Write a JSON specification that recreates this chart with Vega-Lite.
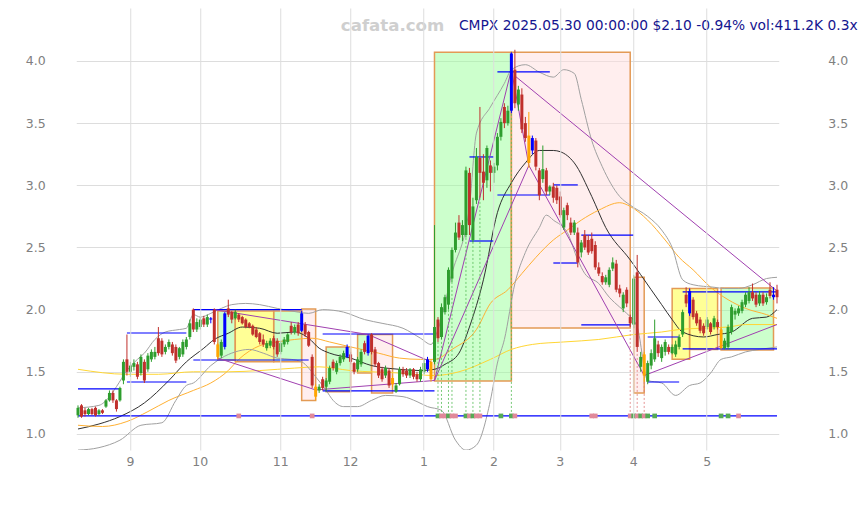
{
"$schema": "https://vega.github.io/schema/vega-lite/v6.json",
"width": 702.5, "height": 442,
"autosize": {"type": "none"},
"padding": {"left": 76.25, "top": 8, "right": 88.25, "bottom": 55},
"background": "white",
"config": {"view": {"stroke": null}, "font": "DejaVu Sans",
  "axis": {"domain": false, "ticks": false, "labelColor": "#808080", "labelFont": "DejaVu Sans", "labelFontSize": 12.5, "gridColor": "#dddddd", "gridWidth": 1}},
"datasets": {
"c": [
{"d":"2024-08-12","o":1.15,"h":1.23,"l":1.13,"c":1.21,"t":"up"},
{"d":"2024-08-13","o":1.23,"h":1.24,"l":1.13,"c":1.14,"t":"down"},
{"d":"2024-08-14","o":1.19,"h":1.21,"l":1.14,"c":1.16,"t":"down"},
{"d":"2024-08-15","o":1.16,"h":1.21,"l":1.15,"c":1.20,"t":"up"},
{"d":"2024-08-16","o":1.20,"h":1.21,"l":1.15,"c":1.16,"t":"down"},
{"d":"2024-08-19","o":1.21,"h":1.22,"l":1.14,"c":1.15,"t":"down"},
{"d":"2024-08-20","o":1.16,"h":1.20,"l":1.15,"c":1.19,"t":"up"},
{"d":"2024-08-21","o":1.19,"h":1.20,"l":1.16,"c":1.17,"t":"down"},
{"d":"2024-08-22","o":1.22,"h":1.28,"l":1.21,"c":1.27,"t":"up"},
{"d":"2024-08-23","o":1.27,"h":1.35,"l":1.26,"c":1.33,"t":"up"},
{"d":"2024-08-26","o":1.33,"h":1.35,"l":1.25,"c":1.27,"t":"down"},
{"d":"2024-08-27","o":1.27,"h":1.28,"l":1.18,"c":1.20,"t":"down"},
{"d":"2024-08-28","o":1.27,"h":1.38,"l":1.26,"c":1.37,"t":"up"},
{"d":"2024-08-29","o":1.43,"h":1.60,"l":1.40,"c":1.58,"t":"up"},
{"d":"2024-08-30","o":1.60,"h":1.80,"l":1.47,"c":1.50,"t":"down"},
{"d":"2024-09-03","o":1.50,"h":1.58,"l":1.46,"c":1.55,"t":"up"},
{"d":"2024-09-04","o":1.54,"h":1.60,"l":1.51,"c":1.57,"t":"up"},
{"d":"2024-09-05","o":1.56,"h":1.58,"l":1.44,"c":1.46,"t":"down"},
{"d":"2024-09-06","o":1.49,"h":1.64,"l":1.47,"c":1.62,"t":"up"},
{"d":"2024-09-09","o":1.58,"h":1.60,"l":1.41,"c":1.43,"t":"down"},
{"d":"2024-09-10","o":1.52,"h":1.65,"l":1.50,"c":1.63,"t":"up"},
{"d":"2024-09-11","o":1.60,"h":1.68,"l":1.58,"c":1.66,"t":"up"},
{"d":"2024-09-12","o":1.62,"h":1.70,"l":1.60,"c":1.66,"t":"up"},
{"d":"2024-09-13","o":1.77,"h":1.86,"l":1.63,"c":1.65,"t":"down"},
{"d":"2024-09-16","o":1.75,"h":1.77,"l":1.62,"c":1.64,"t":"down"},
{"d":"2024-09-17","o":1.66,"h":1.72,"l":1.64,"c":1.70,"t":"up"},
{"d":"2024-09-18","o":1.70,"h":1.76,"l":1.68,"c":1.74,"t":"up"},
{"d":"2024-09-19","o":1.72,"h":1.74,"l":1.63,"c":1.65,"t":"down"},
{"d":"2024-09-20","o":1.70,"h":1.72,"l":1.57,"c":1.59,"t":"down"},
{"d":"2024-09-23","o":1.62,"h":1.70,"l":1.60,"c":1.69,"t":"up"},
{"d":"2024-09-24","o":1.64,"h":1.76,"l":1.62,"c":1.74,"t":"up"},
{"d":"2024-09-25","o":1.70,"h":1.78,"l":1.68,"c":1.76,"t":"up"},
{"d":"2024-09-26","o":1.78,"h":1.92,"l":1.76,"c":1.89,"t":"up"},
{"d":"2024-09-27","o":2.00,"h":2.01,"l":1.82,"c":1.84,"t":"down"},
{"d":"2024-09-30","o":1.84,"h":1.93,"l":1.82,"c":1.90,"t":"up"},
{"d":"2024-10-01","o":1.86,"h":1.94,"l":1.84,"c":1.92,"t":"up"},
{"d":"2024-10-02","o":1.93,"h":1.95,"l":1.86,"c":1.88,"t":"down"},
{"d":"2024-10-03","o":1.88,"h":1.96,"l":1.86,"c":1.94,"t":"up"},
{"d":"2024-10-04","o":1.92,"h":1.94,"l":1.89,"c":1.93,"t":"blue"},
{"d":"2024-10-07","o":2.00,"h":2.01,"l":1.72,"c":1.74,"t":"down"},
{"d":"2024-10-08","o":1.72,"h":1.73,"l":1.60,"c":1.62,"t":"orange"},
{"d":"2024-10-09","o":1.63,"h":1.76,"l":1.61,"c":1.74,"t":"up"},
{"d":"2024-10-10","o":1.70,"h":1.98,"l":1.68,"c":1.97,"t":"blue"},
{"d":"2024-10-11","o":2.01,"h":2.08,"l":1.94,"c":1.96,"t":"down"},
{"d":"2024-10-14","o":1.98,"h":1.99,"l":1.89,"c":1.92,"t":"down"},
{"d":"2024-10-15","o":1.93,"h":2.00,"l":1.92,"c":1.98,"t":"up"},
{"d":"2024-10-16","o":1.96,"h":1.97,"l":1.90,"c":1.92,"t":"down"},
{"d":"2024-10-17","o":1.94,"h":1.95,"l":1.88,"c":1.89,"t":"down"},
{"d":"2024-10-18","o":1.92,"h":1.93,"l":1.85,"c":1.86,"t":"down"},
{"d":"2024-10-21","o":1.89,"h":1.90,"l":1.85,"c":1.86,"t":"down"},
{"d":"2024-10-22","o":1.87,"h":1.88,"l":1.79,"c":1.80,"t":"down"},
{"d":"2024-10-23","o":1.84,"h":1.86,"l":1.77,"c":1.78,"t":"down"},
{"d":"2024-10-24","o":1.81,"h":1.82,"l":1.72,"c":1.74,"t":"down"},
{"d":"2024-10-25","o":1.76,"h":1.80,"l":1.70,"c":1.72,"t":"down"},
{"d":"2024-10-28","o":1.69,"h":1.75,"l":1.67,"c":1.73,"t":"up"},
{"d":"2024-10-29","o":1.71,"h":1.77,"l":1.69,"c":1.75,"t":"up"},
{"d":"2024-10-30","o":1.77,"h":1.79,"l":1.68,"c":1.70,"t":"down"},
{"d":"2024-10-31","o":1.75,"h":1.77,"l":1.62,"c":1.64,"t":"down"},
{"d":"2024-11-01","o":1.66,"h":1.75,"l":1.64,"c":1.73,"t":"up"},
{"d":"2024-11-04","o":1.72,"h":1.78,"l":1.70,"c":1.76,"t":"up"},
{"d":"2024-11-05","o":1.74,"h":1.81,"l":1.72,"c":1.80,"t":"up"},
{"d":"2024-11-06","o":1.87,"h":1.90,"l":1.80,"c":1.82,"t":"down"},
{"d":"2024-11-07","o":1.82,"h":1.88,"l":1.80,"c":1.86,"t":"up"},
{"d":"2024-11-08","o":1.88,"h":1.90,"l":1.79,"c":1.81,"t":"down"},
{"d":"2024-11-11","o":1.83,"h":1.99,"l":1.82,"c":1.97,"t":"blue"},
{"d":"2024-11-12","o":1.88,"h":1.90,"l":1.78,"c":1.80,"t":"down"},
{"d":"2024-11-13","o":1.82,"h":1.83,"l":1.70,"c":1.71,"t":"down"},
{"d":"2024-11-14","o":1.62,"h":1.64,"l":1.37,"c":1.39,"t":"down"},
{"d":"2024-11-15","o":1.38,"h":1.40,"l":1.27,"c":1.30,"t":"orange"},
{"d":"2024-11-18","o":1.35,"h":1.40,"l":1.33,"c":1.38,"t":"up"},
{"d":"2024-11-19","o":1.44,"h":1.46,"l":1.35,"c":1.37,"t":"down"},
{"d":"2024-11-20","o":1.38,"h":1.45,"l":1.34,"c":1.43,"t":"up"},
{"d":"2024-11-21","o":1.42,"h":1.55,"l":1.40,"c":1.53,"t":"up"},
{"d":"2024-11-22","o":1.58,"h":1.60,"l":1.51,"c":1.53,"t":"down"},
{"d":"2024-11-25","o":1.50,"h":1.59,"l":1.48,"c":1.57,"t":"up"},
{"d":"2024-11-26","o":1.57,"h":1.64,"l":1.55,"c":1.62,"t":"up"},
{"d":"2024-11-27","o":1.60,"h":1.67,"l":1.58,"c":1.65,"t":"up"},
{"d":"2024-11-29","o":1.62,"h":1.72,"l":1.61,"c":1.70,"t":"blue"},
{"d":"2024-12-02","o":1.64,"h":1.66,"l":1.56,"c":1.58,"t":"down"},
{"d":"2024-12-03","o":1.57,"h":1.58,"l":1.48,"c":1.50,"t":"down"},
{"d":"2024-12-04","o":1.52,"h":1.62,"l":1.50,"c":1.60,"t":"up"},
{"d":"2024-12-05","o":1.56,"h":1.68,"l":1.54,"c":1.66,"t":"up"},
{"d":"2024-12-06","o":1.73,"h":1.75,"l":1.64,"c":1.66,"t":"down"},
{"d":"2024-12-09","o":1.65,"h":1.80,"l":1.63,"c":1.79,"t":"blue"},
{"d":"2024-12-10","o":1.80,"h":1.81,"l":1.64,"c":1.66,"t":"down"},
{"d":"2024-12-11","o":1.68,"h":1.70,"l":1.54,"c":1.56,"t":"down"},
{"d":"2024-12-12","o":1.57,"h":1.58,"l":1.45,"c":1.47,"t":"down"},
{"d":"2024-12-13","o":1.52,"h":1.54,"l":1.42,"c":1.44,"t":"down"},
{"d":"2024-12-16","o":1.47,"h":1.55,"l":1.45,"c":1.53,"t":"up"},
{"d":"2024-12-17","o":1.51,"h":1.53,"l":1.37,"c":1.39,"t":"down"},
{"d":"2024-12-18","o":1.45,"h":1.47,"l":1.38,"c":1.40,"t":"orange"},
{"d":"2024-12-19","o":1.34,"h":1.41,"l":1.33,"c":1.39,"t":"up"},
{"d":"2024-12-20","o":1.40,"h":1.54,"l":1.39,"c":1.52,"t":"up"},
{"d":"2024-12-23","o":1.52,"h":1.54,"l":1.46,"c":1.48,"t":"down"},
{"d":"2024-12-24","o":1.51,"h":1.53,"l":1.45,"c":1.47,"t":"down"},
{"d":"2024-12-26","o":1.47,"h":1.53,"l":1.45,"c":1.52,"t":"up"},
{"d":"2024-12-27","o":1.52,"h":1.53,"l":1.44,"c":1.46,"t":"down"},
{"d":"2024-12-30","o":1.48,"h":1.50,"l":1.42,"c":1.44,"t":"down"},
{"d":"2024-12-31","o":1.44,"h":1.54,"l":1.42,"c":1.52,"t":"up"},
{"d":"2025-01-02","o":1.50,"h":1.60,"l":1.48,"c":1.57,"t":"up"},
{"d":"2025-01-03","o":1.52,"h":1.62,"l":1.50,"c":1.60,"t":"blue"},
{"d":"2025-01-06","o":1.58,"h":1.60,"l":1.42,"c":1.44,"t":"orange"},
{"d":"2025-01-07","o":1.58,"h":2.68,"l":1.56,"c":1.86,"t":"up"},
{"d":"2025-01-08","o":1.92,"h":1.94,"l":1.74,"c":1.77,"t":"down"},
{"d":"2025-01-10","o":1.78,"h":2.05,"l":1.76,"c":2.02,"t":"up"},
{"d":"2025-01-13","o":1.98,"h":2.12,"l":1.96,"c":2.10,"t":"up"},
{"d":"2025-01-14","o":2.04,"h":2.34,"l":2.00,"c":2.32,"t":"up"},
{"d":"2025-01-15","o":2.25,"h":2.50,"l":2.22,"c":2.48,"t":"up"},
{"d":"2025-01-16","o":2.48,"h":2.70,"l":2.46,"c":2.62,"t":"up"},
{"d":"2025-01-17","o":2.70,"h":2.76,"l":2.56,"c":2.58,"t":"down"},
{"d":"2025-01-21","o":2.60,"h":2.72,"l":2.55,"c":2.68,"t":"up"},
{"d":"2025-01-22","o":2.60,"h":3.15,"l":2.58,"c":3.12,"t":"up"},
{"d":"2025-01-23","o":3.10,"h":3.14,"l":2.60,"c":2.68,"t":"down"},
{"d":"2025-01-24","o":2.56,"h":2.90,"l":2.54,"c":2.83,"t":"up"},
{"d":"2025-01-27","o":2.88,"h":3.30,"l":2.85,"c":3.23,"t":"up"},
{"d":"2025-01-28","o":3.22,"h":3.63,"l":2.90,"c":3.10,"t":"down"},
{"d":"2025-01-29","o":3.11,"h":3.25,"l":2.88,"c":3.02,"t":"down"},
{"d":"2025-01-30","o":3.04,"h":3.32,"l":2.98,"c":3.30,"t":"up"},
{"d":"2025-01-31","o":3.16,"h":3.20,"l":2.95,"c":3.10,"t":"down"},
{"d":"2025-02-03","o":3.10,"h":3.18,"l":3.02,"c":3.15,"t":"up"},
{"d":"2025-02-04","o":3.16,"h":3.42,"l":3.12,"c":3.39,"t":"up"},
{"d":"2025-02-05","o":3.39,"h":3.54,"l":3.36,"c":3.51,"t":"up"},
{"d":"2025-02-06","o":3.63,"h":3.66,"l":3.46,"c":3.50,"t":"down"},
{"d":"2025-02-07","o":3.50,"h":3.64,"l":3.48,"c":3.60,"t":"up"},
{"d":"2025-02-10","o":3.60,"h":4.07,"l":3.58,"c":4.06,"t":"blue"},
{"d":"2025-02-11","o":3.93,"h":4.09,"l":3.62,"c":3.66,"t":"down"},
{"d":"2025-02-12","o":3.65,"h":3.80,"l":3.60,"c":3.77,"t":"up"},
{"d":"2025-02-13","o":3.73,"h":3.78,"l":3.42,"c":3.45,"t":"down"},
{"d":"2025-02-14","o":3.50,"h":3.55,"l":3.35,"c":3.38,"t":"down"},
{"d":"2025-02-18","o":3.40,"h":3.59,"l":3.14,"c":3.18,"t":"orange"},
{"d":"2025-02-19","o":3.28,"h":3.40,"l":3.25,"c":3.38,"t":"blue"},
{"d":"2025-02-20","o":3.36,"h":3.38,"l":3.12,"c":3.15,"t":"down"},
{"d":"2025-02-21","o":3.12,"h":3.14,"l":2.88,"c":2.92,"t":"down"},
{"d":"2025-02-24","o":3.05,"h":3.32,"l":3.02,"c":3.13,"t":"up"},
{"d":"2025-02-25","o":3.12,"h":3.14,"l":2.92,"c":2.95,"t":"down"},
{"d":"2025-02-26","o":2.95,"h":3.00,"l":2.92,"c":2.99,"t":"up"},
{"d":"2025-02-27","o":2.99,"h":3.02,"l":2.86,"c":2.90,"t":"down"},
{"d":"2025-02-28","o":2.98,"h":3.00,"l":2.85,"c":2.88,"t":"down"},
{"d":"2025-03-03","o":2.91,"h":2.95,"l":2.74,"c":2.76,"t":"down"},
{"d":"2025-03-04","o":2.66,"h":2.82,"l":2.64,"c":2.80,"t":"up"},
{"d":"2025-03-05","o":2.84,"h":2.86,"l":2.72,"c":2.76,"t":"down"},
{"d":"2025-03-06","o":2.70,"h":2.74,"l":2.60,"c":2.62,"t":"down"},
{"d":"2025-03-07","o":2.62,"h":2.72,"l":2.60,"c":2.70,"t":"up"},
{"d":"2025-03-10","o":2.62,"h":2.66,"l":2.34,"c":2.38,"t":"down"},
{"d":"2025-03-11","o":2.46,"h":2.56,"l":2.42,"c":2.54,"t":"up"},
{"d":"2025-03-12","o":2.60,"h":2.64,"l":2.48,"c":2.50,"t":"down"},
{"d":"2025-03-13","o":2.56,"h":2.60,"l":2.44,"c":2.46,"t":"down"},
{"d":"2025-03-14","o":2.57,"h":2.62,"l":2.45,"c":2.47,"t":"down"},
{"d":"2025-03-17","o":2.52,"h":2.55,"l":2.32,"c":2.34,"t":"down"},
{"d":"2025-03-18","o":2.34,"h":2.38,"l":2.27,"c":2.29,"t":"down"},
{"d":"2025-03-19","o":2.27,"h":2.30,"l":2.20,"c":2.22,"t":"down"},
{"d":"2025-03-20","o":2.22,"h":2.28,"l":2.20,"c":2.26,"t":"up"},
{"d":"2025-03-21","o":2.20,"h":2.34,"l":2.18,"c":2.32,"t":"up"},
{"d":"2025-03-24","o":2.33,"h":2.42,"l":2.31,"c":2.38,"t":"up"},
{"d":"2025-03-25","o":2.37,"h":2.40,"l":2.14,"c":2.16,"t":"down"},
{"d":"2025-03-26","o":2.17,"h":2.20,"l":2.10,"c":2.13,"t":"down"},
{"d":"2025-03-27","o":2.01,"h":2.14,"l":1.98,"c":2.12,"t":"up"},
{"d":"2025-03-28","o":2.16,"h":2.18,"l":2.02,"c":2.05,"t":"down"},
{"d":"2025-03-31","o":1.94,"h":1.96,"l":1.86,"c":1.89,"t":"down"},
{"d":"2025-04-01","o":1.88,"h":2.28,"l":1.85,"c":2.25,"t":"up"},
{"d":"2025-04-02","o":2.30,"h":2.44,"l":1.66,"c":1.70,"t":"down"},
{"d":"2025-04-03","o":1.54,"h":1.66,"l":1.50,"c":1.62,"t":"up"},
{"d":"2025-04-04","o":1.64,"h":1.66,"l":1.42,"c":1.47,"t":"orange"},
{"d":"2025-04-07","o":1.42,"h":1.59,"l":1.40,"c":1.57,"t":"up"},
{"d":"2025-04-08","o":1.55,"h":1.68,"l":1.52,"c":1.65,"t":"up"},
{"d":"2025-04-09","o":1.60,"h":1.92,"l":1.58,"c":1.77,"t":"up"},
{"d":"2025-04-10","o":1.72,"h":1.75,"l":1.62,"c":1.65,"t":"down"},
{"d":"2025-04-11","o":1.61,"h":1.72,"l":1.58,"c":1.70,"t":"up"},
{"d":"2025-04-14","o":1.66,"h":1.76,"l":1.63,"c":1.74,"t":"up"},
{"d":"2025-04-15","o":1.70,"h":1.72,"l":1.64,"c":1.66,"t":"down"},
{"d":"2025-04-16","o":1.65,"h":1.72,"l":1.64,"c":1.70,"t":"up"},
{"d":"2025-04-17","o":1.64,"h":1.75,"l":1.62,"c":1.72,"t":"up"},
{"d":"2025-04-21","o":1.70,"h":1.80,"l":1.68,"c":1.78,"t":"up"},
{"d":"2025-04-22","o":1.80,"h":2.00,"l":1.78,"c":1.98,"t":"up"},
{"d":"2025-04-23","o":2.12,"h":2.18,"l":2.02,"c":2.05,"t":"down"},
{"d":"2025-04-24","o":2.15,"h":2.17,"l":1.95,"c":1.97,"t":"blue"},
{"d":"2025-04-25","o":2.08,"h":2.10,"l":1.92,"c":1.94,"t":"down"},
{"d":"2025-04-28","o":1.97,"h":1.99,"l":1.87,"c":1.89,"t":"down"},
{"d":"2025-04-29","o":1.92,"h":1.94,"l":1.81,"c":1.83,"t":"down"},
{"d":"2025-04-30","o":1.87,"h":1.89,"l":1.79,"c":1.81,"t":"down"},
{"d":"2025-05-01","o":1.86,"h":1.94,"l":1.84,"c":1.92,"t":"up"},
{"d":"2025-05-02","o":1.89,"h":1.90,"l":1.80,"c":1.82,"t":"down"},
{"d":"2025-05-05","o":1.86,"h":1.95,"l":1.84,"c":1.93,"t":"up"},
{"d":"2025-05-06","o":1.90,"h":1.92,"l":1.84,"c":1.86,"t":"down"},
{"d":"2025-05-07","o":1.84,"h":1.86,"l":1.68,"c":1.69,"t":"orange"},
{"d":"2025-05-08","o":1.69,"h":1.77,"l":1.68,"c":1.75,"t":"up"},
{"d":"2025-05-09","o":1.70,"h":1.88,"l":1.68,"c":1.86,"t":"up"},
{"d":"2025-05-12","o":1.82,"h":2.04,"l":1.80,"c":2.02,"t":"up"},
{"d":"2025-05-13","o":1.96,"h":2.01,"l":1.92,"c":1.99,"t":"up"},
{"d":"2025-05-14","o":1.97,"h":2.03,"l":1.95,"c":2.01,"t":"up"},
{"d":"2025-05-15","o":1.99,"h":2.08,"l":1.97,"c":2.06,"t":"up"},
{"d":"2025-05-16","o":2.04,"h":2.14,"l":2.02,"c":2.12,"t":"up"},
{"d":"2025-05-19","o":2.07,"h":2.18,"l":2.05,"c":2.14,"t":"up"},
{"d":"2025-05-20","o":2.14,"h":2.21,"l":2.07,"c":2.09,"t":"down"},
{"d":"2025-05-21","o":2.12,"h":2.14,"l":2.02,"c":2.04,"t":"down"},
{"d":"2025-05-22","o":2.05,"h":2.15,"l":2.03,"c":2.12,"t":"up"},
{"d":"2025-05-23","o":2.12,"h":2.14,"l":2.03,"c":2.05,"t":"down"},
{"d":"2025-05-27","o":2.06,"h":2.13,"l":2.04,"c":2.10,"t":"up"},
{"d":"2025-05-28","o":2.16,"h":2.22,"l":2.09,"c":2.11,"t":"down"},
{"d":"2025-05-29","o":2.10,"h":2.18,"l":2.08,"c":2.12,"t":"blue"},
{"d":"2025-05-30","o":2.16,"h":2.20,"l":2.05,"c":2.10,"t":"down"}
],
"ln": [
{"s":"ma20","d":"2024-08-12","v":1.04},{"s":"ma20","d":"2024-08-20","v":1.08},{"s":"ma20","d":"2024-08-28","v":1.14},{"s":"ma20","d":"2024-09-09","v":1.25},{"s":"ma20","d":"2024-09-18","v":1.43},{"s":"ma20","d":"2024-09-25","v":1.58},{"s":"ma20","d":"2024-10-02","v":1.69},{"s":"ma20","d":"2024-10-07","v":1.76},{"s":"ma20","d":"2024-10-11","v":1.81},{"s":"ma20","d":"2024-10-17","v":1.86},{"s":"ma20","d":"2024-10-24","v":1.85},{"s":"ma20","d":"2024-10-31","v":1.81},{"s":"ma20","d":"2024-11-07","v":1.82},{"s":"ma20","d":"2024-11-13","v":1.77},{"s":"ma20","d":"2024-11-18","v":1.69},{"s":"ma20","d":"2024-11-21","v":1.65},{"s":"ma20","d":"2024-12-02","v":1.61},{"s":"ma20","d":"2024-12-10","v":1.55},{"s":"ma20","d":"2024-12-20","v":1.52},{"s":"ma20","d":"2024-12-31","v":1.51},{"s":"ma20","d":"2025-01-07","v":1.52},{"s":"ma20","d":"2025-01-13","v":1.56},{"s":"ma20","d":"2025-01-17","v":1.65},{"s":"ma20","d":"2025-01-23","v":1.86},{"s":"ma20","d":"2025-01-29","v":2.24},{"s":"ma20","d":"2025-02-04","v":2.78},{"s":"ma20","d":"2025-02-10","v":3.02},{"s":"ma20","d":"2025-02-14","v":3.18},{"s":"ma20","d":"2025-02-21","v":3.28},{"s":"ma20","d":"2025-02-27","v":3.28},{"s":"ma20","d":"2025-03-03","v":3.27},{"s":"ma20","d":"2025-03-07","v":3.18},{"s":"ma20","d":"2025-03-14","v":2.91},{"s":"ma20","d":"2025-03-20","v":2.66},{"s":"ma20","d":"2025-03-31","v":2.40},{"s":"ma20","d":"2025-04-08","v":2.16},{"s":"ma20","d":"2025-04-11","v":2.04},{"s":"ma20","d":"2025-04-16","v":1.92},{"s":"ma20","d":"2025-04-22","v":1.82},{"s":"ma20","d":"2025-04-30","v":1.78},{"s":"ma20","d":"2025-05-06","v":1.80},{"s":"ma20","d":"2025-05-12","v":1.82},{"s":"ma20","d":"2025-05-20","v":1.93},{"s":"ma20","d":"2025-05-27","v":1.94},{"s":"ma20","d":"2025-05-30","v":2.00},
{"s":"ma50","d":"2024-08-12","v":1.07},{"s":"ma50","d":"2024-08-21","v":1.06},{"s":"ma50","d":"2024-08-30","v":1.10},{"s":"ma50","d":"2024-09-10","v":1.18},{"s":"ma50","d":"2024-09-18","v":1.27},{"s":"ma50","d":"2024-09-27","v":1.35},{"s":"ma50","d":"2024-10-04","v":1.41},{"s":"ma50","d":"2024-10-11","v":1.51},{"s":"ma50","d":"2024-10-16","v":1.60},{"s":"ma50","d":"2024-10-24","v":1.71},{"s":"ma50","d":"2024-10-31","v":1.74},{"s":"ma50","d":"2024-11-07","v":1.76},{"s":"ma50","d":"2024-11-14","v":1.77},{"s":"ma50","d":"2024-11-21","v":1.74},{"s":"ma50","d":"2024-12-02","v":1.70},{"s":"ma50","d":"2024-12-12","v":1.65},{"s":"ma50","d":"2024-12-20","v":1.61},{"s":"ma50","d":"2024-12-31","v":1.60},{"s":"ma50","d":"2025-01-07","v":1.60},{"s":"ma50","d":"2025-01-15","v":1.68},{"s":"ma50","d":"2025-01-27","v":1.84},{"s":"ma50","d":"2025-01-31","v":2.05},{"s":"ma50","d":"2025-02-07","v":2.16},{"s":"ma50","d":"2025-02-13","v":2.29},{"s":"ma50","d":"2025-02-20","v":2.42},{"s":"ma50","d":"2025-02-27","v":2.56},{"s":"ma50","d":"2025-03-05","v":2.64},{"s":"ma50","d":"2025-03-11","v":2.72},{"s":"ma50","d":"2025-03-18","v":2.80},{"s":"ma50","d":"2025-03-26","v":2.86},{"s":"ma50","d":"2025-03-31","v":2.83},{"s":"ma50","d":"2025-04-07","v":2.72},{"s":"ma50","d":"2025-04-14","v":2.56},{"s":"ma50","d":"2025-04-21","v":2.42},{"s":"ma50","d":"2025-04-25","v":2.32},{"s":"ma50","d":"2025-05-02","v":2.18},{"s":"ma50","d":"2025-05-09","v":2.08},{"s":"ma50","d":"2025-05-16","v":2.01},{"s":"ma50","d":"2025-05-27","v":1.96},{"s":"ma50","d":"2025-05-30","v":1.93},
{"s":"ma200","d":"2024-08-12","v":1.52},{"s":"ma200","d":"2024-08-30","v":1.48},{"s":"ma200","d":"2024-09-13","v":1.48},{"s":"ma200","d":"2024-09-27","v":1.50},{"s":"ma200","d":"2024-10-11","v":1.50},{"s":"ma200","d":"2024-10-24","v":1.51},{"s":"ma200","d":"2024-11-07","v":1.53},{"s":"ma200","d":"2024-11-18","v":1.54},{"s":"ma200","d":"2024-12-02","v":1.51},{"s":"ma200","d":"2024-12-20","v":1.49},{"s":"ma200","d":"2025-01-07","v":1.47},{"s":"ma200","d":"2025-01-17","v":1.50},{"s":"ma200","d":"2025-01-31","v":1.60},{"s":"ma200","d":"2025-02-10","v":1.68},{"s":"ma200","d":"2025-02-19","v":1.72},{"s":"ma200","d":"2025-03-04","v":1.74},{"s":"ma200","d":"2025-03-18","v":1.76},{"s":"ma200","d":"2025-04-01","v":1.80},{"s":"ma200","d":"2025-04-11","v":1.82},{"s":"ma200","d":"2025-04-21","v":1.84},{"s":"ma200","d":"2025-04-29","v":1.85},{"s":"ma200","d":"2025-05-09","v":1.86},{"s":"ma200","d":"2025-05-16","v":1.88},{"s":"ma200","d":"2025-05-30","v":1.88},
{"s":"bbu","d":"2024-08-12","v":1.21},{"s":"bbu","d":"2024-08-20","v":1.23},{"s":"bbu","d":"2024-08-23","v":1.30},{"s":"bbu","d":"2024-08-27","v":1.38},{"s":"bbu","d":"2024-08-30","v":1.51},{"s":"bbu","d":"2024-09-05","v":1.60},{"s":"bbu","d":"2024-09-09","v":1.65},{"s":"bbu","d":"2024-09-12","v":1.76},{"s":"bbu","d":"2024-09-17","v":1.82},{"s":"bbu","d":"2024-09-23","v":1.84},{"s":"bbu","d":"2024-09-25","v":1.85},{"s":"bbu","d":"2024-09-27","v":1.96},{"s":"bbu","d":"2024-10-01","v":1.94},{"s":"bbu","d":"2024-10-04","v":1.97},{"s":"bbu","d":"2024-10-09","v":2.01},{"s":"bbu","d":"2024-10-14","v":2.04},{"s":"bbu","d":"2024-10-18","v":2.05},{"s":"bbu","d":"2024-10-24","v":2.04},{"s":"bbu","d":"2024-10-31","v":2.01},{"s":"bbu","d":"2024-11-08","v":1.98},{"s":"bbu","d":"2024-11-13","v":1.97},{"s":"bbu","d":"2024-11-19","v":2.00},{"s":"bbu","d":"2024-11-27","v":1.98},{"s":"bbu","d":"2024-12-06","v":1.92},{"s":"bbu","d":"2024-12-13","v":1.89},{"s":"bbu","d":"2024-12-23","v":1.85},{"s":"bbu","d":"2024-12-31","v":1.77},{"s":"bbu","d":"2025-01-06","v":1.72},{"s":"bbu","d":"2025-01-08","v":1.84},{"s":"bbu","d":"2025-01-15","v":2.29},{"s":"bbu","d":"2025-01-23","v":2.83},{"s":"bbu","d":"2025-01-27","v":3.42},{"s":"bbu","d":"2025-01-31","v":3.63},{"s":"bbu","d":"2025-02-06","v":3.82},{"s":"bbu","d":"2025-02-10","v":3.93},{"s":"bbu","d":"2025-02-14","v":3.97},{"s":"bbu","d":"2025-02-21","v":3.91},{"s":"bbu","d":"2025-02-27","v":3.87},{"s":"bbu","d":"2025-03-04","v":3.93},{"s":"bbu","d":"2025-03-07","v":3.90},{"s":"bbu","d":"2025-03-11","v":3.69},{"s":"bbu","d":"2025-03-14","v":3.36},{"s":"bbu","d":"2025-03-19","v":3.15},{"s":"bbu","d":"2025-03-26","v":2.91},{"s":"bbu","d":"2025-03-31","v":2.84},{"s":"bbu","d":"2025-04-07","v":2.75},{"s":"bbu","d":"2025-04-11","v":2.64},{"s":"bbu","d":"2025-04-16","v":2.50},{"s":"bbu","d":"2025-04-22","v":2.24},{"s":"bbu","d":"2025-04-25","v":2.20},{"s":"bbu","d":"2025-05-05","v":2.18},{"s":"bbu","d":"2025-05-08","v":2.17},{"s":"bbu","d":"2025-05-14","v":2.17},{"s":"bbu","d":"2025-05-20","v":2.20},{"s":"bbu","d":"2025-05-27","v":2.25},{"s":"bbu","d":"2025-05-30","v":2.26},
{"s":"bbl","d":"2024-08-12","v":0.87},{"s":"bbl","d":"2024-08-20","v":0.89},{"s":"bbl","d":"2024-08-28","v":0.95},{"s":"bbl","d":"2024-09-06","v":1.07},{"s":"bbl","d":"2024-09-16","v":1.09},{"s":"bbl","d":"2024-09-20","v":1.27},{"s":"bbl","d":"2024-09-25","v":1.39},{"s":"bbl","d":"2024-09-27","v":1.41},{"s":"bbl","d":"2024-10-04","v":1.55},{"s":"bbl","d":"2024-10-09","v":1.61},{"s":"bbl","d":"2024-10-15","v":1.66},{"s":"bbl","d":"2024-10-21","v":1.68},{"s":"bbl","d":"2024-10-25","v":1.65},{"s":"bbl","d":"2024-10-31","v":1.61},{"s":"bbl","d":"2024-11-06","v":1.60},{"s":"bbl","d":"2024-11-11","v":1.58},{"s":"bbl","d":"2024-11-15","v":1.46},{"s":"bbl","d":"2024-11-20","v":1.35},{"s":"bbl","d":"2024-11-22","v":1.27},{"s":"bbl","d":"2024-11-27","v":1.22},{"s":"bbl","d":"2024-12-04","v":1.22},{"s":"bbl","d":"2024-12-10","v":1.27},{"s":"bbl","d":"2024-12-16","v":1.31},{"s":"bbl","d":"2024-12-23","v":1.30},{"s":"bbl","d":"2024-12-30","v":1.26},{"s":"bbl","d":"2025-01-03","v":1.22},{"s":"bbl","d":"2025-01-10","v":1.19},{"s":"bbl","d":"2025-01-16","v":0.95},{"s":"bbl","d":"2025-01-22","v":0.87},{"s":"bbl","d":"2025-01-27","v":0.91},{"s":"bbl","d":"2025-01-31","v":1.27},{"s":"bbl","d":"2025-02-04","v":1.57},{"s":"bbl","d":"2025-02-06","v":1.76},{"s":"bbl","d":"2025-02-11","v":2.21},{"s":"bbl","d":"2025-02-14","v":2.46},{"s":"bbl","d":"2025-02-21","v":2.66},{"s":"bbl","d":"2025-02-25","v":2.76},{"s":"bbl","d":"2025-02-27","v":2.72},{"s":"bbl","d":"2025-03-05","v":2.62},{"s":"bbl","d":"2025-03-10","v":2.40},{"s":"bbl","d":"2025-03-12","v":2.29},{"s":"bbl","d":"2025-03-18","v":2.21},{"s":"bbl","d":"2025-03-21","v":2.10},{"s":"bbl","d":"2025-03-26","v":2.02},{"s":"bbl","d":"2025-03-28","v":1.97},{"s":"bbl","d":"2025-04-02","v":1.86},{"s":"bbl","d":"2025-04-07","v":1.43},{"s":"bbl","d":"2025-04-11","v":1.41},{"s":"bbl","d":"2025-04-17","v":1.31},{"s":"bbl","d":"2025-04-24","v":1.39},{"s":"bbl","d":"2025-04-29","v":1.41},{"s":"bbl","d":"2025-05-02","v":1.49},{"s":"bbl","d":"2025-05-07","v":1.60},{"s":"bbl","d":"2025-05-12","v":1.62},{"s":"bbl","d":"2025-05-16","v":1.66},{"s":"bbl","d":"2025-05-22","v":1.68},{"s":"bbl","d":"2025-05-30","v":1.70}
],
"bx": [
{"d1":"2024-10-08","d2":"2024-10-15","lo":1.595,"hi":1.989,"k":"g"},
{"d1":"2024-10-15","d2":"2024-10-30","lo":1.58,"hi":1.989,"k":"y"},
{"d1":"2024-10-30","d2":"2024-11-11","lo":1.58,"hi":1.989,"k":"g"},
{"d1":"2024-11-11","d2":"2024-11-15","lo":1.27,"hi":2.005,"k":"p"},
{"d1":"2024-11-20","d2":"2024-12-02","lo":1.34,"hi":1.70,"k":"g"},
{"d1":"2024-12-04","d2":"2024-12-10","lo":1.49,"hi":1.80,"k":"g"},
{"d1":"2024-12-10","d2":"2024-12-18","lo":1.33,"hi":1.80,"k":"p"},
{"d1":"2025-01-07","d2":"2025-02-10","lo":1.426,"hi":4.07,"k":"g"},
{"d1":"2025-02-10","d2":"2025-03-31","lo":1.853,"hi":4.07,"k":"p"},
{"d1":"2025-04-01","d2":"2025-04-04","lo":1.33,"hi":2.26,"k":"p"},
{"d1":"2025-04-16","d2":"2025-04-24","lo":1.60,"hi":2.17,"k":"y"},
{"d1":"2025-04-24","d2":"2025-05-06","lo":1.68,"hi":2.17,"k":"y"},
{"d1":"2025-05-07","d2":"2025-05-29","lo":1.676,"hi":2.174,"k":"g"}
],
"hs": [
{"d1":"2024-08-12","d2":"2024-08-28","v":1.362},
{"d1":"2024-08-30","d2":"2024-09-25","v":1.812},
{"d1":"2024-08-30","d2":"2024-09-25","v":1.418},
{"d1":"2024-09-27","d2":"2024-11-11","v":2.0},
{"d1":"2024-09-27","d2":"2024-11-13","v":1.595},
{"d1":"2024-11-19","d2":"2025-01-07","v":1.804},
{"d1":"2024-11-19","d2":"2025-01-07","v":1.346},
{"d1":"2025-01-23","d2":"2025-02-03","v":3.228},
{"d1":"2025-01-23","d2":"2025-02-03","v":2.552},
{"d1":"2025-02-04","d2":"2025-02-26","v":3.912},
{"d1":"2025-02-04","d2":"2025-02-26","v":2.922},
{"d1":"2025-02-27","d2":"2025-03-10","v":3.003},
{"d1":"2025-02-27","d2":"2025-03-10","v":2.375},
{"d1":"2025-03-11","d2":"2025-04-01","v":2.60},
{"d1":"2025-03-11","d2":"2025-03-31","v":1.877},
{"d1":"2025-04-07","d2":"2025-04-21","v":1.78},
{"d1":"2025-04-07","d2":"2025-04-21","v":1.418},
{"d1":"2025-04-22","d2":"2025-05-30","v":2.142},
{"d1":"2025-04-22","d2":"2025-05-30","v":1.684},
{"d1":"2024-08-12","d2":"2025-05-30","v":1.145}
],
"pl": [
{"d1":"2024-10-07","v1":2.00,"d2":"2024-12-09","v2":1.80},
{"d1":"2024-12-09","v1":1.80,"d2":"2025-01-06","v2":1.58},
{"d1":"2024-10-08","v1":1.61,"d2":"2024-11-15","v2":1.354},
{"d1":"2024-11-15","v1":1.354,"d2":"2025-01-07","v2":1.43},
{"d1":"2025-01-07","v1":1.43,"d2":"2025-02-10","v2":3.93},
{"d1":"2025-01-07","v1":1.43,"d2":"2025-02-18","v2":3.16},
{"d1":"2025-02-10","v1":3.93,"d2":"2025-02-18","v2":3.16},
{"d1":"2025-02-18","v1":3.16,"d2":"2025-04-04","v2":1.47},
{"d1":"2025-04-04","v1":1.47,"d2":"2025-05-30","v2":1.88},
{"d1":"2025-02-11","v1":3.88,"d2":"2025-05-30","v2":2.15}
],
"dt": [
{"d":"2025-01-08","b":1.145,"v":1.74,"k":"dg"},{"d":"2025-01-10","b":1.145,"v":1.76,"k":"dg"},{"d":"2025-01-14","b":1.145,"v":2.00,"k":"dg"},{"d":"2025-01-15","b":1.145,"v":2.22,"k":"dg"},{"d":"2025-01-22","b":1.145,"v":2.58,"k":"dg"},{"d":"2025-01-24","b":1.145,"v":2.54,"k":"dg"},{"d":"2025-01-28","b":1.145,"v":2.90,"k":"dg"},{"d":"2025-02-10","b":1.145,"v":3.58,"k":"dg"},{"d":"2025-03-31","b":1.145,"v":1.86,"k":"dp"},{"d":"2025-04-02","b":1.145,"v":1.66,"k":"dp"},{"d":"2025-04-04","b":1.145,"v":1.42,"k":"dp"}
],
"mk": [
{"d":"2024-10-16","v":1.145,"k":"mp"},{"d":"2024-11-14","v":1.145,"k":"mp"},{"d":"2025-01-08","v":1.145,"k":"mg"},{"d":"2025-01-10","v":1.145,"k":"mp"},{"d":"2025-01-13","v":1.145,"k":"mp"},{"d":"2025-01-14","v":1.145,"k":"mg"},{"d":"2025-01-15","v":1.145,"k":"mp"},{"d":"2025-01-16","v":1.145,"k":"mp"},{"d":"2025-01-22","v":1.145,"k":"mg"},{"d":"2025-01-23","v":1.145,"k":"mp"},{"d":"2025-01-24","v":1.145,"k":"mg"},{"d":"2025-01-27","v":1.145,"k":"mp"},{"d":"2025-01-28","v":1.145,"k":"mp"},{"d":"2025-02-05","v":1.145,"k":"mg"},{"d":"2025-02-10","v":1.145,"k":"mg"},{"d":"2025-02-11","v":1.145,"k":"mp"},{"d":"2025-03-14","v":1.145,"k":"mp"},{"d":"2025-03-17","v":1.145,"k":"mp"},{"d":"2025-03-31","v":1.145,"k":"mp"},{"d":"2025-04-01","v":1.145,"k":"mg"},{"d":"2025-04-02","v":1.145,"k":"mp"},{"d":"2025-04-03","v":1.145,"k":"mg"},{"d":"2025-04-04","v":1.145,"k":"mp"},{"d":"2025-04-07","v":1.145,"k":"mg"},{"d":"2025-04-09","v":1.145,"k":"mg"},{"d":"2025-05-07","v":1.145,"k":"mg"},{"d":"2025-05-09","v":1.145,"k":"mg"},{"d":"2025-05-14","v":1.145,"k":"mp"}
],
"tx": [
{"d":"2024-12-18","v":4.28,"txt":"cafata.com","k":"wm"},
{"d":"2025-01-17","v":4.28,"txt":"CMPX 2025.05.30 00:00:00 $2.10 -0.94% vol:411.2K 0.3x","k":"hd"}
]
},
"resolve": {"axis": {"y": "independent"}},
"layer": [
{"data": {"name": "bx"},
 "mark": {"type": "rect", "stroke": "#e39a55", "strokeWidth": 1.5, "fillOpacity": 0.5},
 "encoding": {
  "x": {"field": "d1", "type": "ordinal", "title": null,
        "axis": {"values": ["2024-09-03","2024-10-01","2024-11-01","2024-12-02","2025-01-02","2025-02-03","2025-03-03","2025-04-01","2025-05-01"],
                 "labelExpr": "toNumber(slice(datum.value, 5, 7))", "grid": true, "labelAngle": 0, "labelPadding": 5}},
  "x2": {"field": "d2"},
  "y": {"field": "lo", "type": "quantitative", "title": null,
        "scale": {"domain": [0.871, 4.426], "nice": false, "zero": false},
        "axis": {"orient": "left", "values": [1, 1.5, 2, 2.5, 3, 3.5, 4], "format": ".1f", "grid": true, "labelPadding": 31}},
  "y2": {"field": "hi"},
  "fill": {"field": "k", "type": "nominal", "scale": {"domain": ["g","y","p"], "range": ["#99ff99","#ffff2d","#ffdddd"]}, "legend": null}
 }},
{"data": {"name": "ln"},
 "mark": {"type": "line", "strokeWidth": 1, "interpolate": "monotone", "clip": true},
 "encoding": {
  "x": {"field": "d", "type": "ordinal", "title": null},
  "y": {"field": "v", "type": "quantitative", "title": null,
        "axis": {"orient": "right", "values": [1, 1.5, 2, 2.5, 3, 3.5, 4], "format": ".1f", "grid": false, "labelPadding": 49}},
  "stroke": {"field": "s", "type": "nominal", "scale": {"domain": ["bbu","bbl","ma200","ma50","ma20"], "range": ["#a0a0a0","#a0a0a0","#ffd633","#ffb033","#303030"]}, "legend": null}
 }},
{"data": {"name": "hs"},
 "mark": {"type": "rule", "color": "#0000ff", "strokeWidth": 1.2},
 "encoding": {
  "x": {"field": "d1", "type": "ordinal", "title": null},
  "x2": {"field": "d2"},
  "y": {"field": "v", "type": "quantitative", "title": null, "axis": null}
 }},
{"data": {"name": "pl"},
 "mark": {"type": "rule", "color": "#a040b0", "strokeWidth": 1},
 "encoding": {
  "x": {"field": "d1", "type": "ordinal", "title": null},
  "x2": {"field": "d2"},
  "y": {"field": "v1", "type": "quantitative", "title": null, "axis": null},
  "y2": {"field": "v2"}
 }},
{"data": {"name": "dt"},
 "mark": {"type": "rule", "strokeWidth": 1, "strokeDash": [2, 2], "opacity": 0.8},
 "encoding": {
  "x": {"field": "d", "type": "ordinal", "title": null},
  "y": {"field": "b", "type": "quantitative", "title": null, "axis": null},
  "y2": {"field": "v"},
  "color": {"field": "k", "type": "nominal", "scale": {"domain": ["up","down","blue","orange","mg","mp","dg","dp"], "range": ["#2e9e2e","#c0302c","#0000ff","#ffa500","#55aa55","#e0899a","#55bb55","#e07a7a"]}, "legend": null}
 }},
{"data": {"name": "c"},
 "mark": {"type": "rule", "strokeWidth": 1},
 "encoding": {
  "x": {"field": "d", "type": "ordinal", "title": null},
  "y": {"field": "l", "type": "quantitative", "title": null, "axis": null},
  "y2": {"field": "h"},
  "color": {"field": "t", "type": "nominal", "scale": {"domain": ["up","down","blue","orange","mg","mp","dg","dp"], "range": ["#2e9e2e","#c0302c","#0000ff","#ffa500","#55aa55","#e0899a","#55bb55","#e07a7a"]}, "legend": null}
 }},
{"data": {"name": "c"},
 "mark": {"type": "bar", "width": 3},
 "encoding": {
  "x": {"field": "d", "type": "ordinal", "title": null},
  "y": {"field": "o", "type": "quantitative", "title": null, "axis": null},
  "y2": {"field": "c"},
  "color": {"field": "t", "type": "nominal", "scale": {"domain": ["up","down","blue","orange","mg","mp","dg","dp"], "range": ["#2e9e2e","#c0302c","#0000ff","#ffa500","#55aa55","#e0899a","#55bb55","#e07a7a"]}, "legend": null}
 }},
{"data": {"name": "mk"},
 "mark": {"type": "point", "shape": "square", "filled": true, "size": 22, "opacity": 1},
 "encoding": {
  "x": {"field": "d", "type": "ordinal", "title": null},
  "y": {"field": "v", "type": "quantitative", "title": null, "axis": null},
  "color": {"field": "k", "type": "nominal", "scale": {"domain": ["up","down","blue","orange","mg","mp","dg","dp"], "range": ["#2e9e2e","#c0302c","#0000ff","#ffa500","#55aa55","#e0899a","#55bb55","#e07a7a"]}, "legend": null}
 }},
{"data": {"name": "tx"},
 "transform": [{"filter": "datum.k == 'wm'"}],
 "mark": {"type": "text", "font": "DejaVu Sans", "fontWeight": "bold", "fontSize": 16.6, "color": "#cfcfcf", "align": "center", "baseline": "middle"},
 "encoding": {
  "x": {"field": "d", "type": "ordinal", "title": null},
  "y": {"field": "v", "type": "quantitative", "title": null, "axis": null},
  "text": {"field": "txt"}
 }},
{"data": {"name": "tx"},
 "transform": [{"filter": "datum.k == 'hd'"}],
 "mark": {"type": "text", "font": "DejaVu Sans", "fontSize": 13.8, "color": "#15158f", "align": "left", "baseline": "middle"},
 "encoding": {
  "x": {"field": "d", "type": "ordinal", "title": null},
  "y": {"field": "v", "type": "quantitative", "title": null, "axis": null},
  "text": {"field": "txt"}
 }}
]
}
